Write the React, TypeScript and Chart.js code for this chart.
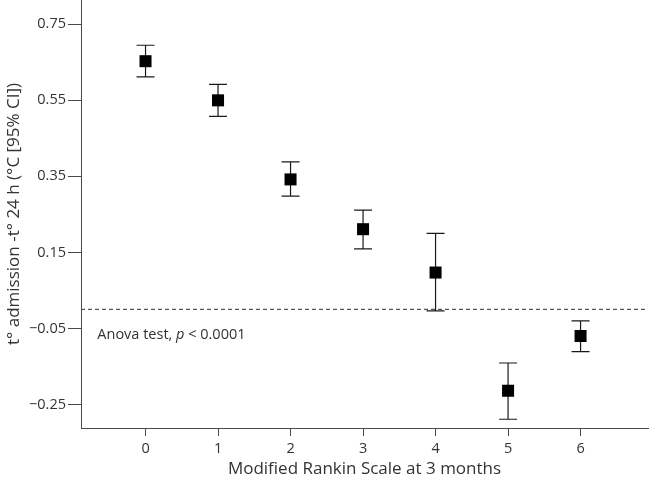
import React, { useEffect, useRef } from "react";
import { Chart, registerables } from "chart.js";

Chart.register(...registerables);

const categories = [0, 1, 2, 3, 4, 5, 6];
const means = [0.653, 0.55, 0.342, 0.211, 0.097, -0.214, -0.07];
const upperCI = [0.695, 0.592, 0.388, 0.261, 0.2, -0.141, -0.03];
const lowerCI = [0.612, 0.508, 0.298, 0.159, -0.004, -0.289, -0.111];
const yTicks = [-0.25, -0.05, 0.15, 0.35, 0.55, 0.75];
const xTicks = [0, 1, 2, 3, 4, 5, 6];
const referenceLine = 0;
const xTitle = "Modified Rankin Scale at 3 months";
const yTitle = "t° admission -t° 24 h (°C [95% CI])";

const FONT = "'Open Sans', 'Noto Sans', sans-serif";
const TEXT = "#333333";
const AXIS = "#4a4a4a";

const errorBarPlugin = {
  id: "errorBars",
  beforeDatasetsDraw(chart: any) {
    const { ctx, scales, chartArea } = chart;
    const xs = scales.x;
    const ys = scales.y;
    ctx.save();
    ctx.strokeStyle = "#555555";
    ctx.lineWidth = 1.2;
    ctx.setLineDash([4, 3]);
    const y0 = ys.getPixelForValue(referenceLine);
    ctx.beginPath();
    ctx.moveTo(chartArea.left, y0);
    ctx.lineTo(chartArea.right, y0);
    ctx.stroke();
    ctx.setLineDash([]);
    ctx.strokeStyle = "#1a1a1a";
    ctx.lineWidth = 1.2;
    categories.forEach((c, i) => {
      const x = xs.getPixelForValue(c);
      const yu = ys.getPixelForValue(upperCI[i]);
      const yl = ys.getPixelForValue(lowerCI[i]);
      ctx.beginPath();
      ctx.moveTo(x, yu);
      ctx.lineTo(x, yl);
      ctx.moveTo(x - 9, yu);
      ctx.lineTo(x + 9, yu);
      ctx.moveTo(x - 9, yl);
      ctx.lineTo(x + 9, yl);
      ctx.stroke();
    });
    const tx = xs.getPixelForValue(-0.665);
    const ty = ys.getPixelForValue(-0.068);
    ctx.fillStyle = TEXT;
    ctx.textBaseline = "middle";
    ctx.textAlign = "left";
    const normal = `14.5px ${FONT}`;
    const italic = `italic 14.5px ${FONT}`;
    let cx = tx;
    const parts: [string, string][] = [
      ["Anova test, ", normal],
      ["p", italic],
      [" < 0.0001", normal],
    ];
    parts.forEach(([t, f]) => {
      ctx.font = f;
      ctx.fillText(t, cx, ty);
      cx += ctx.measureText(t).width;
    });
    ctx.restore();
  },
};

export default function App() {
  const ref = useRef<HTMLCanvasElement | null>(null);
  useEffect(() => {
    if (!ref.current) return;
    const chart = new Chart(ref.current, {
      type: "scatter",
      data: {
        datasets: [
          {
            data: categories.map((c, i) => ({ x: c, y: means[i] })),
            pointStyle: "rect",
            radius: 8.5,
            backgroundColor: "#000000",
            borderColor: "#000000",
            borderWidth: 0,
          },
        ],
      },
      options: {
        animation: false,
        responsive: false,
        layout: { autoPadding: false, padding: { top: 0, right: 2, left: 0, bottom: 0 } },
        plugins: { legend: { display: false }, tooltip: { enabled: false } },
        scales: {
          x: {
            type: "linear",
            min: -0.89,
            max: 6.93,
            afterBuildTicks: (s: any) => {
              s.ticks = xTicks.map((v) => ({ value: v }));
            },
            afterFit: (s: any) => {
              s.height = 57;
              s.paddingLeft = 0;
              s.paddingRight = 0;
            },
            grid: { drawOnChartArea: false, drawTicks: true, tickLength: 8, color: AXIS, lineWidth: 1 },
            border: { display: true, color: AXIS, width: 1 },
            ticks: {
              color: TEXT,
              font: { family: FONT, size: 14.5 },
              padding: 4,
              maxRotation: 0,
              callback: (v: any) => String(v),
            },
            title: {
              display: true,
              text: xTitle,
              color: TEXT,
              font: { family: FONT, size: 17 },
              padding: { top: 2, bottom: 6 },
            },
          },
          y: {
            type: "linear",
            min: -0.312,
            max: 0.814,
            afterBuildTicks: (s: any) => {
              s.ticks = yTicks.map((v) => ({ value: v }));
            },
            afterFit: (s: any) => {
              s.width = 81;
              s.paddingTop = 0;
              s.paddingBottom = 0;
            },
            grid: { drawOnChartArea: false, drawTicks: true, tickLength: 13, color: AXIS, lineWidth: 1 },
            border: { display: true, color: AXIS, width: 1 },
            ticks: {
              color: TEXT,
              font: { family: FONT, size: 14.5 },
              padding: 2,
              callback: (v: any) => {
                const n = Number(v);
                const s = Math.abs(n).toFixed(2);
                return n < 0 ? "\u2212" + s : s;
              },
            },
            title: {
              display: true,
              text: yTitle,
              color: TEXT,
              font: { family: FONT, size: 17 },
              padding: { top: 4, bottom: 4 },
            },
          },
        },
      },
      plugins: [errorBarPlugin],
    } as any);
    return () => chart.destroy();
  }, []);
  return (
    <canvas
      ref={ref}
      width={650}
      height={485}
      style={{ position: "absolute", left: 0, top: 0, width: 650, height: 485 }}
    />
  );
}
